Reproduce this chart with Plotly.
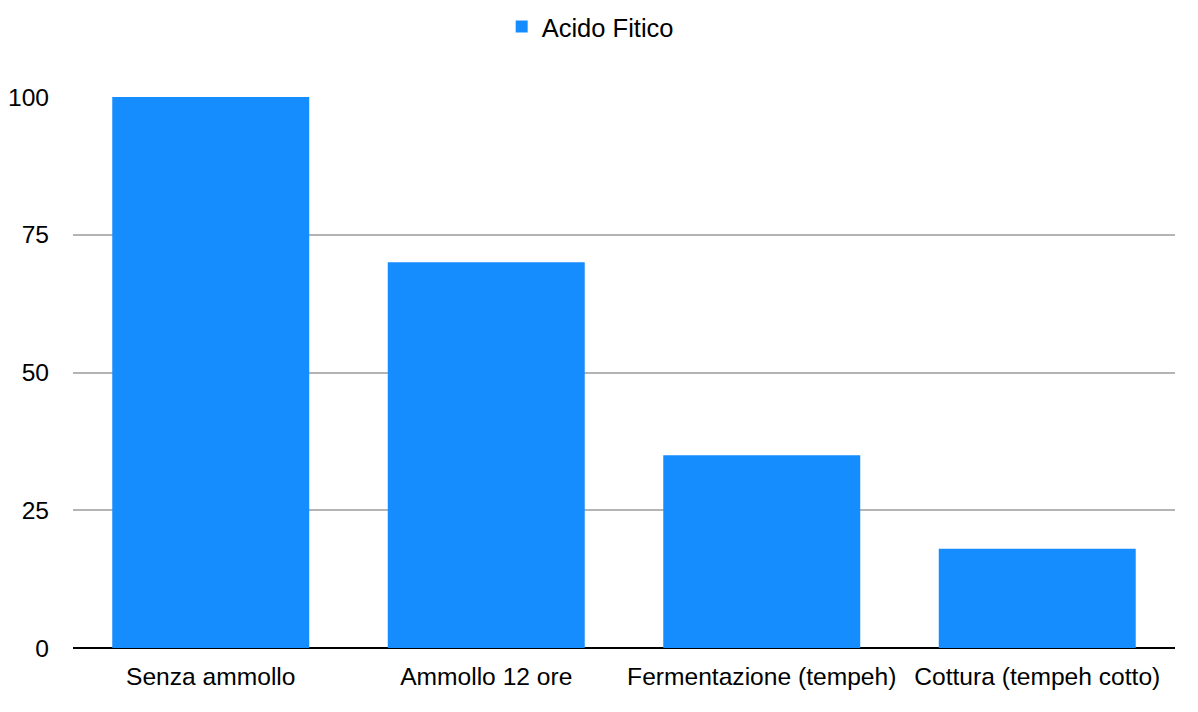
import plotly.graph_objects as go

categories = ["Senza ammollo", "Ammollo 12 ore", "Fermentazione (tempeh)", "Cottura (tempeh cotto)"]
values = [100, 70, 35, 18]
series_name = "Acido Fitico"
y_ticks = [0, 25, 50, 75, 100]

FONT = "Liberation Sans, Arial, Helvetica, sans-serif"

fig = go.Figure()
fig.add_trace(go.Bar(
    x=categories, y=values, name=series_name,
    marker=dict(color="#168DFF", line=dict(width=0)),
    showlegend=True,
))

fig.update_layout(
    width=1190, height=704,
    margin=dict(l=65, r=23, t=89, b=64, autoexpand=False),
    paper_bgcolor="white", plot_bgcolor="white",
    bargap=0.285,
    font=dict(family=FONT, size=24.6, color="#000000"),
    legend=dict(
        orientation="h", x=0.389, xanchor="left", y=1 - 19 / 704, yanchor="middle",
        yref="container", font=dict(size=25.5),
    ),
    xaxis=dict(
        showgrid=False, showline=False, ticks="", automargin=False,
        tickfont=dict(size=24.6), ticklabelstandoff=11,
    ),
    yaxis=dict(
        range=[0, 100], tickvals=y_ticks, ticktext=[str(v) for v in y_ticks],
        showgrid=True, gridcolor="#b4b4b4", gridwidth=2,
        zeroline=True, zerolinecolor="#000000", zerolinewidth=2,
        showline=False, ticks="", tickfont=dict(size=24.6), automargin=False,
        ticklabelstandoff=23,
    ),
)

fig.write_html("out.html")
